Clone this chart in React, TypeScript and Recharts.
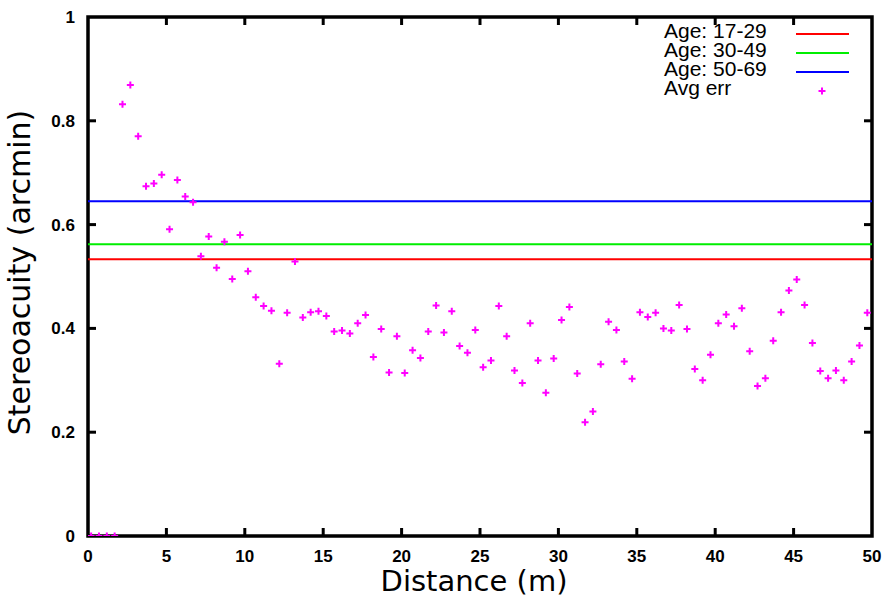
import { ComposedChart, Scatter, XAxis, YAxis, ReferenceLine, ReferenceArea } from 'recharts';

// distance (m) of each measurement
const distances = [
  0.2, 0.7, 1.2, 1.7, 2.2, 2.7, 3.2, 3.7, 4.2, 4.7,
  5.2, 5.7, 6.2, 6.7, 7.2, 7.7, 8.2, 8.7, 9.2, 9.7,
  10.2, 10.7, 11.2, 11.7, 12.2, 12.7, 13.2, 13.7, 14.2, 14.7,
  15.2, 15.7, 16.2, 16.7, 17.2, 17.7, 18.2, 18.7, 19.2, 19.7,
  20.2, 20.7, 21.2, 21.7, 22.2, 22.7, 23.2, 23.7, 24.2, 24.7,
  25.2, 25.7, 26.2, 26.7, 27.2, 27.7, 28.2, 28.7, 29.2, 29.7,
  30.2, 30.7, 31.2, 31.7, 32.2, 32.7, 33.2, 33.7, 34.2, 34.7,
  35.2, 35.7, 36.2, 36.7, 37.2, 37.7, 38.2, 38.7, 39.2, 39.7,
  40.2, 40.7, 41.2, 41.7, 42.2, 42.7, 43.2, 43.7, 44.2, 44.7,
  45.2, 45.7, 46.2, 46.7, 47.2, 47.7, 48.2, 48.7, 49.2, 49.7,
];

// average error (arcmin)
const avgErr = [
  0, 0, 0, 0, 0.832, 0.869, 0.77, 0.674, 0.679, 0.696,
  0.591, 0.686, 0.654, 0.643, 0.539, 0.577, 0.517, 0.567, 0.495, 0.58,
  0.51, 0.46, 0.443, 0.434, 0.332, 0.43, 0.529, 0.421, 0.431, 0.433,
  0.424, 0.394, 0.396, 0.39, 0.41, 0.426, 0.345, 0.399, 0.315, 0.385,
  0.314, 0.358, 0.343, 0.394, 0.444, 0.392, 0.433, 0.366, 0.353, 0.397,
  0.325, 0.338, 0.443, 0.385, 0.319, 0.295, 0.41, 0.338, 0.276, 0.342,
  0.416, 0.441, 0.313, 0.219, 0.24, 0.331, 0.413, 0.397, 0.336, 0.303,
  0.431, 0.422, 0.43, 0.4, 0.396, 0.445, 0.399, 0.322, 0.3, 0.349,
  0.41, 0.427, 0.404, 0.439, 0.356, 0.289, 0.304, 0.376, 0.431, 0.473,
  0.494, 0.445, 0.372, 0.318, 0.304, 0.319, 0.3, 0.336, 0.367, 0.43,
];

// age group thresholds
const ageGroups = ['Age: 17-29', 'Age: 30-49', 'Age: 50-69'];
const ageValues = [0.533, 0.562, 0.645];
const ageColors = ['#ff0000', '#00ee00', '#0000ff'];

const xTicks = [0, 5, 10, 15, 20, 25, 30, 35, 40, 45, 50];
const yTicks = [0, 0.2, 0.4, 0.6, 0.8, 1];

const MAGENTA = '#ff00ff';

const data = distances.map((d, i) => ({ x: d, y: avgErr[i] }));

const Plus = (props: any) => {
  const { cx, cy } = props;
  if (cx == null || cy == null) return null;
  return <path d={`M${cx - 3.5},${cy}h7M${cx},${cy - 3.5}v7`} stroke={MAGENTA} strokeWidth={2} fill="none" />;
};

const tickFont = { fontFamily: 'Liberation Sans, Arial, sans-serif', fontSize: 17, fontWeight: 'bold', fill: '#000' };
const legendFont = { fontFamily: 'Liberation Sans, Arial, sans-serif', fontSize: 21, fill: '#000' };

export default function App() {
  // inward tick length in data units
  const tickY = 8 / 519;
  const tickX = (8 / 784) * 50;

  return (
    <div style={{ position: 'absolute', left: 0, top: 0, width: 885, height: 598, background: '#fff' }}>
      <ComposedChart width={885} height={598} data={data} margin={{ top: 17, right: 13, bottom: 0, left: 0 }}>
        <XAxis
          type="number"
          dataKey="x"
          domain={[0, 50]}
          ticks={xTicks}
          axisLine={false}
          tickLine={false}
          tickSize={0}
          tickMargin={14}
          height={62}
          tick={tickFont}
          allowDataOverflow
          label={{
            content: ({ viewBox }: any) => (
              <text x={viewBox.x + viewBox.width / 2 - 6} y={viewBox.y + 55} textAnchor="middle"
                style={{ fontFamily: 'DejaVu Sans, sans-serif', fontSize: 29, fill: '#000' }}>
                Distance (m)
              </text>
            ),
          }}
        />
        <YAxis
          type="number"
          dataKey="y"
          domain={[0, 1]}
          ticks={yTicks}
          axisLine={false}
          tickLine={false}
          tickSize={0}
          tickMargin={13}
          width={88}
          tick={tickFont}
          allowDataOverflow
          label={{
            content: ({ viewBox }: any) => {
              const cy = viewBox.y + viewBox.height / 2 - 4;
              return (
                <text x={30} y={cy} textAnchor="middle" transform={`rotate(-90, 30, ${cy})`}
                  style={{ fontFamily: 'DejaVu Sans, sans-serif', fontSize: 30, fill: '#000' }}>
                  Stereoacuity (arcmin)
                </text>
              );
            },
          }}
        />
        <ReferenceArea x1={0} x2={50} y1={0} y2={1} fill="none" stroke="#000" strokeWidth={3.5} ifOverflow="visible" />
        {xTicks.slice(1, -1).map((t) => (
          <ReferenceLine key={`xb${t}`} segment={[{ x: t, y: 0 }, { x: t, y: tickY }]} stroke="#000" strokeWidth={3} />
        ))}
        {xTicks.slice(1, -1).map((t) => (
          <ReferenceLine key={`xt${t}`} segment={[{ x: t, y: 1 }, { x: t, y: 1 - tickY }]} stroke="#000" strokeWidth={3} />
        ))}
        {yTicks.slice(1, -1).map((t) => (
          <ReferenceLine key={`yl${t}`} segment={[{ x: 0, y: t }, { x: tickX, y: t }]} stroke="#000" strokeWidth={3} />
        ))}
        {yTicks.slice(1, -1).map((t) => (
          <ReferenceLine key={`yr${t}`} segment={[{ x: 50, y: t }, { x: 50 - tickX, y: t }]} stroke="#000" strokeWidth={3} />
        ))}
        {ageValues.map((v, i) => (
          <ReferenceLine key={ageGroups[i]} y={v} stroke={ageColors[i]} strokeWidth={2} />
        ))}
        <Scatter name="Avg err" dataKey="y" fill={MAGENTA} shape={Plus} isAnimationActive={false} />
      </ComposedChart>
      <svg width={885} height={120} style={{ position: 'absolute', left: 0, top: 0, pointerEvents: 'none' }}>
        {ageGroups.map((g, i) => (
          <g key={g}>
            <text x={664} y={38 + i * 19} style={legendFont}>{g}</text>
            <line x1={796} x2={849} y1={34 + i * 19} y2={34 + i * 19} stroke={ageColors[i]} strokeWidth={2} />
          </g>
        ))}
        <text x={664} y={95} style={legendFont}>Avg err</text>
        <path d="M818.5,91h7M822,87.5v7" stroke={MAGENTA} strokeWidth={2} />
      </svg>
    </div>
  );
}
